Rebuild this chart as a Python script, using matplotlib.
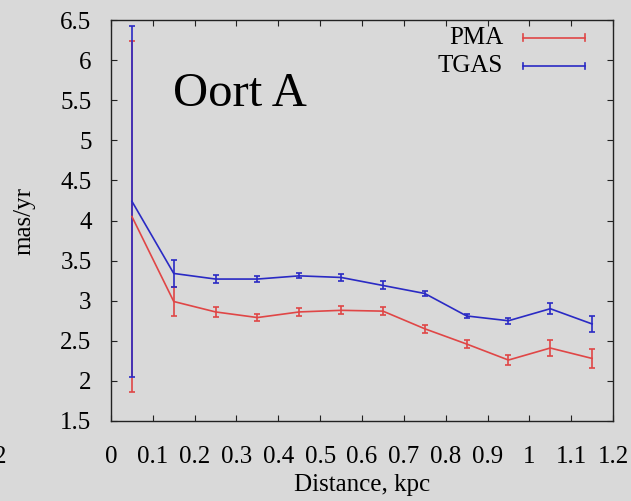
import matplotlib
matplotlib.use('Agg')
from matplotlib import pyplot as plt

# distance bins, kpc
dist = [0.05, 0.15, 0.25, 0.35, 0.45, 0.55, 0.65, 0.75, 0.85, 0.95, 1.05, 1.15]

pma = [4.05, 2.99, 2.86, 2.79, 2.86, 2.88, 2.87, 2.65, 2.46, 2.26, 2.41, 2.28]
pma_err = [2.19, 0.18, 0.06, 0.045, 0.045, 0.05, 0.05, 0.05, 0.05, 0.06, 0.10, 0.12]

tgas = [4.24, 3.34, 3.27, 3.27, 3.31, 3.29, 3.19, 3.09, 2.81, 2.75, 2.90, 2.71]
tgas_err = [2.19, 0.17, 0.05, 0.04, 0.03, 0.04, 0.05, 0.03, 0.03, 0.04, 0.07, 0.10]

xticks = [0, 0.1, 0.2, 0.3, 0.4, 0.5, 0.6, 0.7, 0.8, 0.9, 1, 1.1, 1.2]
yticks = [1.5, 2, 2.5, 3, 3.5, 4, 4.5, 5, 5.5, 6, 6.5]

red = '#e04646'
blue = '#2a2ac4'
bg = '#d9d9d9'

plt.rcParams['font.family'] = ['Liberation Serif', 'DejaVu Serif']

fig = plt.figure(figsize=(6.31, 5.01), dpi=100, facecolor=bg)
ax = fig.add_axes([0.1759, 0.1597, 0.7956, 0.8003], facecolor=bg)

ax.errorbar(dist, pma, yerr=pma_err, color=red, lw=1.2, elinewidth=1.2,
            capsize=2.5, capthick=1.2)
ax.errorbar(dist, tgas, yerr=tgas_err, color=blue, lw=1.2, elinewidth=1.2,
            capsize=2.5, capthick=1.2)

ax.set_xlim(0, 1.2)
ax.set_ylim(1.5, 6.5)
ax.set_xticks(xticks)
ax.set_xticklabels(['0', '0.1', '0.2', '0.3', '0.4', '0.5', '0.6', '0.7',
                    '0.8', '0.9', '1', '1.1', '1.2'])
ax.set_yticks(yticks)
ax.set_yticklabels(['1.5', '2', '2.5', '3', '3.5', '4', '4.5', '5', '5.5', '6', '6.5'])
ax.tick_params(direction='in', length=4, width=0.8, top=True, right=True,
               labelsize=18, color='#222222')
ax.tick_params(axis='x', pad=18)
ax.tick_params(axis='y', pad=14)
for s in ax.spines.values():
    s.set_linewidth(1.0)
    s.set_color('#222222')

ax.set_xlabel('Distance, kpc', fontsize=18, labelpad=4)
ax.set_ylabel('mas/yr', fontsize=18, labelpad=18)

ax.text(0.1235, 0.786, 'Oort A', transform=ax.transAxes, fontsize=35,
        va='baseline', ha='left')

# gnuplot-style key
for name, col, yk in [('PMA', red, 0.956), ('TGAS', blue, 0.885)]:
    ax.text(0.781, yk, name, transform=ax.transAxes, fontsize=18,
            ha='right', va='center')
    ax.plot([0.821, 0.944], [yk, yk], color=col, lw=1.2, transform=ax.transAxes,
            clip_on=False)
    for xe in (0.821, 0.944):
        ax.plot([xe, xe], [yk - 0.008, yk + 0.008], color=col, lw=1.2,
                transform=ax.transAxes, clip_on=False)

# clipped label from the neighbouring panel
fig.text(0.0, 1 - 457 / 501, '2', fontsize=18, ha='center', va='center')

fig.savefig('out.png', dpi=100, facecolor=bg)
